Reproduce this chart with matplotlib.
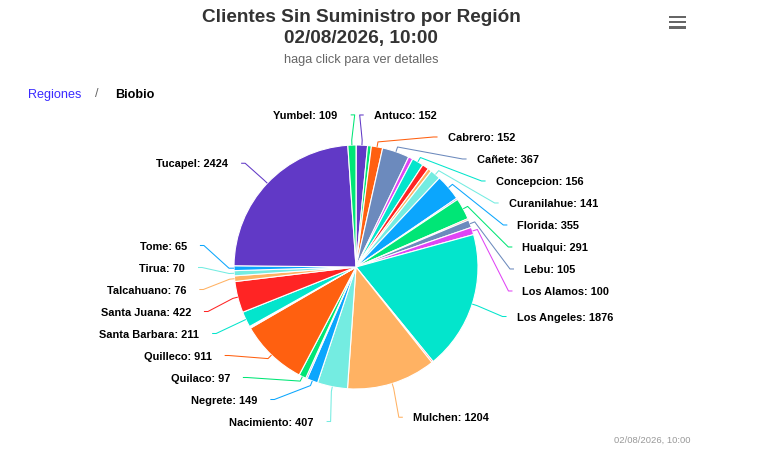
import numpy as np
import matplotlib.pyplot as plt
from matplotlib.patches import Rectangle

plt.rcParams['font.family'] = ['Liberation Sans', 'DejaVu Sans']

comunas = ['Alto Biobio', 'Antuco', 'Arauco', 'Cabrero', 'Cañete', 'Chiguayante',
           'Concepcion', 'Contulmo', 'Coronel', 'Curanilahue', 'Florida', 'Hualpen',
           'Hualqui', 'Laja', 'Lebu', 'Los Alamos', 'Los Angeles', 'Lota', 'Mulchen',
           'Nacimiento', 'Negrete', 'Penco', 'Quilaco', 'Quilleco', 'San Pedro de la Paz',
           'San Rosendo', 'Santa Barbara', 'Santa Juana', 'Talcahuano', 'Tirua', 'Tome',
           'Tucapel', 'Yumbel']
clientes = [3, 152, 51, 152, 367, 60, 156, 90, 50, 141, 355, 20, 291, 20, 105, 100,
            1876, 20, 1204, 407, 149, 20, 97, 911, 15, 10, 211, 422, 76, 70, 65, 2424, 109]
# labels that the chart hid because they overlapped
sin_etiqueta = ['Alto Biobio', 'Arauco', 'Chiguayante', 'Contulmo', 'Coronel', 'Hualpen',
                'Laja', 'Lota', 'Penco', 'San Pedro de la Paz', 'San Rosendo']

titulo = 'Clientes Sin Suministro por Región'
fecha = '02/08/2026, 10:00'
subtitulo = 'haga click para ver detalles'

paleta = ['#0ba6fd', '#6139c6', '#00e676', '#ff6010', '#6c8abd',
          '#e044f5', '#03e5cc', '#ff2424', '#ffb263', '#74ece1']
colores = [paleta[i % len(paleta)] for i in range(len(comunas))]

W, H = 773, 458
fig = plt.figure(figsize=(W / 100, H / 100), dpi=100)
ax = fig.add_axes([0, 0, 1, 1])

cx, cy, r = 356, 267, 122
ax.pie(clientes, colors=colores, startangle=270, counterclock=True,
       center=(cx, cy), radius=r,
       wedgeprops=dict(edgecolor='white', linewidth=0.8))
ax.set_xlim(0, W)
ax.set_ylim(H, 0)
ax.set_aspect('equal')
ax.set_axis_off()

# data labels, placed like the original: natural position on an ellipse,
# then pushed apart so they keep a fixed line spacing
ecx, ecy, ea, eb = 356, 269.5, 158, 154.7
gap, bottom = 22, 421.5
total = float(sum(clientes))
cum = np.cumsum([0] + clientes[:-1])
mid = (cum + np.array(clientes) / 2.0) / total * 2 * np.pi


def repartir(ys):
    ys = list(ys)
    for i in range(1, len(ys)):
        ys[i] = max(ys[i], ys[i - 1] + gap)
    if ys and ys[-1] > bottom:
        ys[-1] = bottom
        for i in range(len(ys) - 2, -1, -1):
            ys[i] = min(ys[i], ys[i + 1] - gap)
    return ys


for derecha in (True, False):
    idx = [i for i in range(len(comunas))
           if comunas[i] not in sin_etiqueta and ((mid[i] < np.pi) == derecha)]
    idx.sort(key=lambda i: ecy - eb * np.cos(mid[i]))
    ys = repartir([ecy - eb * np.cos(mid[i]) for i in idx])
    for i, y in zip(idx, ys):
        s = 1 if derecha else -1
        dx = ea * np.sqrt(max(0.0, 1 - ((y - ecy) / eb) ** 2))
        xa = ecx + s * dx
        th = mid[i]
        tx, ty = cx + r * np.sin(th), cy - r * np.cos(th)
        bx, by = cx + (r + 5) * np.sin(th), cy - (r + 5) * np.cos(th)
        ax.plot([xa, xa - s * 4, bx, tx], [y, y, by, ty], color=colores[i], lw=0.75,
                solid_capstyle='butt')
        ax.text(xa + (10 if derecha else -13), y, f'{comunas[i]}: {clientes[i]}',
                ha='left' if derecha else 'right', va='center_baseline',
                fontsize=7.9, fontweight='bold', color='black')

# titles
ax.text(361, 17, titulo, ha='center', va='center', fontsize=13.7,
        fontweight='bold', color='#333333')
ax.text(361, 38, fecha, ha='center', va='center', fontsize=13.7,
        fontweight='bold', color='#333333')
ax.text(361, 60, subtitulo, ha='center', va='center', fontsize=9.2, color='#666666')

# breadcrumbs
ax.text(28, 95, 'Regiones', ha='left', va='center', fontsize=9.1, color='#3b2bff')
ax.text(97, 94, '/', ha='center', va='center', fontsize=9.1, color='#666666')
ax.text(115, 95, 'Biobio', ha='left', va='center', fontsize=9.1,
        fontweight='bold', color='black')

# menu button
for yb in (17, 22, 27.3):
    ax.add_patch(Rectangle((668.5, yb - 1.3), 17, 2.6, color='#666666', lw=0))

# credits
ax.text(690, 440, fecha, ha='right', va='center', fontsize=6.8, color='#999999')

fig.savefig('out.png', dpi=100)
